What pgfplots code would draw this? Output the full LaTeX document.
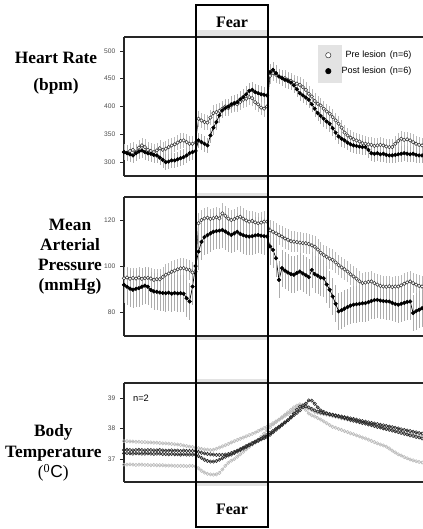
\documentclass[border=0pt]{standalone}
\usepackage{fontspec}
\setmainfont{Liberation Serif}
\setsansfont{Liberation Sans}
\usepackage{pgfplots}
\usepackage{pgfplotstable}
\pgfplotsset{compat=1.18}

% x: time index (no ticks in the figure); fear period roughly 24--48
% hp/hq: heart rate pre/post lesion, mp/mq: MAP pre/post, ta..td: body temperature (n=2)
\pgfplotstableread{
x hp hq mp mq ta tb tc td
0 318 318 94.7 91.8 37.59 37.30 37.19 36.82
1 317 316 95.0 91.0 37.59 37.31 37.20 36.82
2 320 314 94.5 90.2 37.58 37.30 37.19 36.83
3 322 312 94.8 89.7 37.58 37.29 37.18 36.82
4 318 316 94.6 90.1 37.57 37.30 37.19 36.81
5 326 319 95.0 90.4 37.57 37.31 37.19 36.82
6 330 321 94.4 91.0 37.56 37.30 37.18 36.82
7 327 318 94.7 91.5 37.56 37.29 37.18 36.81
8 322 316 94.9 91.0 37.55 37.30 37.19 36.81
9 320 315 94.6 89.6 37.55 37.30 37.18 36.80
10 318 313 94.0 89.0 37.54 37.29 37.17 36.81
11 321 312 94.3 88.8 37.54 37.29 37.18 36.80
12 325 308 94.3 88.5 37.53 37.30 37.18 36.80
13 322 304 95.2 88.3 37.52 37.29 37.17 36.80
14 324 300 96.2 88.2 37.52 37.28 37.17 36.79
15 327 301 96.8 88.4 37.51 37.28 37.16 36.79
16 330 303 97.5 88.0 37.50 37.29 37.17 36.79
17 332 303 98.0 88.3 37.49 37.28 37.16 36.78
18 335 305 98.6 88.1 37.48 37.28 37.16 36.78
19 338 307 99.0 88.2 37.47 37.27 37.15 36.78
20 339 309 99.1 88.0 37.45 37.28 37.16 36.78
21 336 312 98.6 86.0 37.43 37.27 37.15 36.77
22 333 316 98.3 84.6 37.41 37.27 37.15 36.78
23 333 318 97.2 91.1 37.40 37.27 37.15 36.78
24 335 320 97.5 100.0 37.38 37.27 37.15 36.76
25 378 339 118.6 106.3 37.36 37.24 37.10 36.70
26 375 336 120.0 110.5 37.34 37.21 37.04 36.62
27 372 333 120.7 112.6 37.32 37.19 36.98 36.56
28 371 330 121.0 113.4 37.31 37.17 36.94 36.52
29 380 348 120.5 114.2 37.30 37.16 36.92 36.50
30 388 362 120.8 114.9 37.31 37.15 36.92 36.49
31 390 372 121.2 115.2 37.34 37.14 36.94 36.50
32 392 384 120.7 115.4 37.38 37.14 36.98 36.55
33 396 393 122.9 115.7 37.42 37.14 37.03 36.66
34 400 397 121.8 115.0 37.46 37.15 37.08 36.78
35 397 400 120.6 114.2 37.50 37.17 37.12 36.88
36 402 404 120.0 113.5 37.55 37.20 37.15 36.95
37 405 406 120.4 114.2 37.59 37.24 37.20 37.00
38 404 408 121.0 114.9 37.63 37.28 37.25 37.08
39 408 413 121.4 114.0 37.67 37.33 37.30 37.16
40 412 417 120.6 113.4 37.71 37.38 37.35 37.24
41 414 422 119.8 113.0 37.75 37.43 37.40 37.32
42 417 428 119.3 112.8 37.79 37.48 37.45 37.40
43 415 430 119.6 113.0 37.83 37.53 37.50 37.48
44 408 426 119.0 113.3 37.87 37.58 37.55 37.56
45 404 424 118.6 113.5 37.92 37.63 37.60 37.64
46 398 422 118.9 113.2 37.97 37.68 37.65 37.73
47 396 421 119.3 113.0 38.02 37.74 37.69 37.84
48 400 420 119.3 112.8 38.06 37.79 37.73 37.95
49 455 462 115.5 108.5 38.12 37.86 37.80 38.05
50 460 466 114.9 107.0 38.18 37.93 37.88 38.14
51 457 460 114.2 103.4 38.24 38.00 37.96 38.22
52 454 454 113.5 94.0 38.30 38.07 38.04 38.30
53 452 451 112.8 99.1 38.36 38.14 38.12 38.38
54 451 448 112.0 98.0 38.42 38.21 38.20 38.46
55 448 446 111.4 97.2 38.48 38.28 38.28 38.54
56 446 443 110.8 96.5 38.54 38.36 38.38 38.62
57 443 438 110.6 96.2 38.60 38.44 38.50 38.70
58 441 431 110.4 97.0 38.66 38.52 38.62 38.76
59 439 424 110.2 97.6 38.70 38.60 38.72 38.80
60 435 420 110.0 96.8 38.72 38.70 38.76 38.78
61 430 416 109.9 96.0 38.70 38.82 38.74 38.62
62 423 412 109.6 95.2 38.66 38.93 38.70 38.50
63 418 404 109.0 98.3 38.60 38.92 38.65 38.44
64 410 396 108.4 96.5 38.55 38.82 38.60 38.40
65 405 388 107.2 95.8 38.52 38.70 38.56 38.35
66 402 383 105.8 95.0 38.50 38.60 38.53 38.30
67 396 378 104.8 94.7 38.48 38.55 38.51 38.24
68 391 373 104.0 92.0 38.46 38.50 38.50 38.18
69 387 369 103.2 89.7 38.44 38.48 38.47 38.12
70 381 361 102.7 86.8 38.41 38.46 38.45 38.06
71 375 353 101.6 83.6 38.39 38.44 38.42 38.03
72 369 346 100.4 80.3 38.37 38.42 38.40 37.99
73 362 342 99.4 80.8 38.34 38.40 38.37 37.96
74 353 339 98.6 81.5 38.32 38.38 38.35 37.92
75 348 335 97.6 82.2 38.30 38.36 38.32 37.89
76 344 332 96.4 82.8 38.27 38.34 38.29 37.85
77 341 330 95.5 83.2 38.25 38.32 38.27 37.82
78 339 329 94.5 83.4 38.23 38.30 38.24 37.78
79 337 328 93.4 83.6 38.21 38.27 38.22 37.75
80 334 327 92.6 83.8 38.18 38.25 38.19 37.71
81 333 327 92.8 83.9 38.16 38.23 38.17 37.68
82 332 322 93.1 84.3 38.14 38.21 38.14 37.64
83 331 316 93.3 84.8 38.11 38.19 38.12 37.60
84 329 315 92.6 85.2 38.09 38.17 38.09 37.56
85 330 316 91.9 85.3 38.07 38.15 38.06 37.52
86 331 314 91.4 85.0 38.05 38.13 38.04 37.48
87 330 315 91.1 84.8 38.02 38.11 38.01 37.45
88 328 313 91.0 84.7 38.00 38.09 37.99 37.41
89 327 312 91.2 84.6 37.98 38.07 37.96 37.35
90 327 312 90.9 84.0 37.96 38.05 37.94 37.28
91 333 313 91.1 83.5 37.93 38.03 37.91 37.22
92 338 314 91.1 83.2 37.91 38.01 37.89 37.16
93 342 315 91.6 83.6 37.89 37.98 37.86 37.12
94 340 316 92.3 84.0 37.86 37.96 37.83 37.07
95 341 315 92.9 84.4 37.84 37.94 37.81 37.03
96 339 314 93.3 84.6 37.82 37.92 37.78 36.99
97 336 315 92.6 79.6 37.80 37.90 37.76 36.96
98 333 313 91.9 80.4 37.77 37.88 37.73 36.93
99 331 312 91.4 81.0 37.75 37.86 37.71 36.91
100 330 312 91.1 81.7 37.73 37.84 37.68 36.89
}\physio

\pgfplotsset{
  panel/.style={
    scale only axis, width=226.9pt, anchor=south west,
    xmin=0, xmax=101.5, xtick=\empty,
    axis x line*=box, axis y line*=left,
    axis line style={-, line width=0.8pt, black!85},
    tick align=outside, major tick length=3pt, ytick pos=left,
    tick style={black!85, line width=0.6pt},
    yticklabel style={font=\sffamily\fontsize{5}{6}\selectfont, text=black!70},
    /pgf/number format/assume math mode=true,
  },
  pre/.style={gray!40!black, line width=0.4pt, mark=*, mark size=1.3pt,
    mark options={fill=white, draw=gray!40!black, line width=0.4pt},
    error bars/y dir=both, error bars/y fixed=#1, error bars/error mark=none,
    error bars/error bar style={gray!55, line width=0.35pt}},
  post/.style={black, line width=0.5pt, mark=*, mark size=1.3pt,
    mark options={fill=black, draw=black},
    error bars/y dir=both, error bars/y fixed=#1, error bars/error mark=none,
    error bars/error bar style={gray!65, line width=0.35pt}},
  temp/.style={#1, line width=0.45pt, mark=o, mark size=1.25pt, mark options={line width=0.4pt}},
}

\begin{document}
\begin{tikzpicture}
% fear-period strips above/below each panel
\fill[gray!22] (147pt,-22.5pt) rectangle (201pt,-27.75pt);
\fill[gray!22] (147pt,-132pt) rectangle (201pt,-135pt);
\fill[gray!22] (147pt,-144.75pt) rectangle (201pt,-147.75pt);
\fill[gray!22] (147pt,-252pt) rectangle (201pt,-255pt);
\fill[gray!22] (147pt,-284.25pt) rectangle (201pt,-287.25pt);
\fill[gray!22] (147pt,-361.5pt) rectangle (201pt,-364.5pt);

\begin{axis}[panel, at={(93pt,-132pt)}, height=104.25pt,
  ymin=275, ymax=525, ytick={300,350,400,450,500},
  legend image code/.code={\path (-8pt,-5.75pt) (6pt,5.75pt); \draw[mark size=2pt] plot coordinates {(0pt,0pt)};},
  legend style={at={(0.638,0.928)}, anchor=north west, draw=none, fill=none,
    inner sep=0pt, nodes={inner sep=1pt}, row sep=0pt,
    font=\sffamily\fontsize{6.8}{8}\selectfont}]
\fill[gray!22] (axis cs:65.1,442.3) rectangle (axis cs:73.2,510.6);
\addplot[pre=14] table[x=x, y=hp] {\physio};
\addplot[post=14] table[x=x, y=hq] {\physio};
\legend{\makebox[36pt][r]{Pre lesion}\hspace{3pt}(n=6),
        \makebox[36pt][r]{Post lesion}\hspace{3pt}(n=6)}
\end{axis}

\begin{axis}[panel, at={(93pt,-252pt)}, height=104.25pt,
  ymin=69.6, ymax=130, ytick={80,100,120}]
\addplot[pre=4.5] table[x=x, y=mp] {\physio};
\addplot[post=8] table[x=x, y=mq] {\physio};
\end{axis}

\begin{axis}[panel, at={(93pt,-361.5pt)}, height=74.25pt,
  ymin=36.25, ymax=39.5, ytick={37,38,39}]
\addplot[temp=gray!55] table[x=x, y=ta] {\physio};
\addplot[temp=gray!55] table[x=x, y=td] {\physio};
\addplot[temp=black!85] table[x=x, y=tb] {\physio};
\addplot[temp=black!85] table[x=x, y=tc] {\physio};
\end{axis}

\node[font=\sffamily\fontsize{7}{8}\selectfont] at (105.75pt,-298.5pt) {n=2};

% fear box and labels
\draw[line width=2.2pt] (147pt,-3.75pt) rectangle (201pt,-395.25pt);
\node[font=\bfseries\fontsize{12}{14}\selectfont] at (174pt,-16.5pt) {Fear};
\node[font=\bfseries\fontsize{12}{14}\selectfont] at (174pt,-381.75pt) {Fear};

% y-axis titles
\node[align=center, font=\bfseries\fontsize{13}{20}\selectfont] at (42pt,-55pt) {Heart Rate\\(bpm)};
\node[align=center, font=\bfseries\fontsize{13}{15}\selectfont] at (52.5pt,-192.75pt) {Mean\\Arterial\\Pressure\\(mmHg)};
\node[align=center, font=\bfseries\fontsize{13}{15.5}\selectfont] at (40pt,-339.75pt) {Body\\Temperature\\{\mdseries(\textsuperscript{0}\textsf{C})}};

\pgfresetboundingbox
\useasboundingbox (0pt,0pt) rectangle (316.5pt,-396.75pt);
\end{tikzpicture}
\end{document}
